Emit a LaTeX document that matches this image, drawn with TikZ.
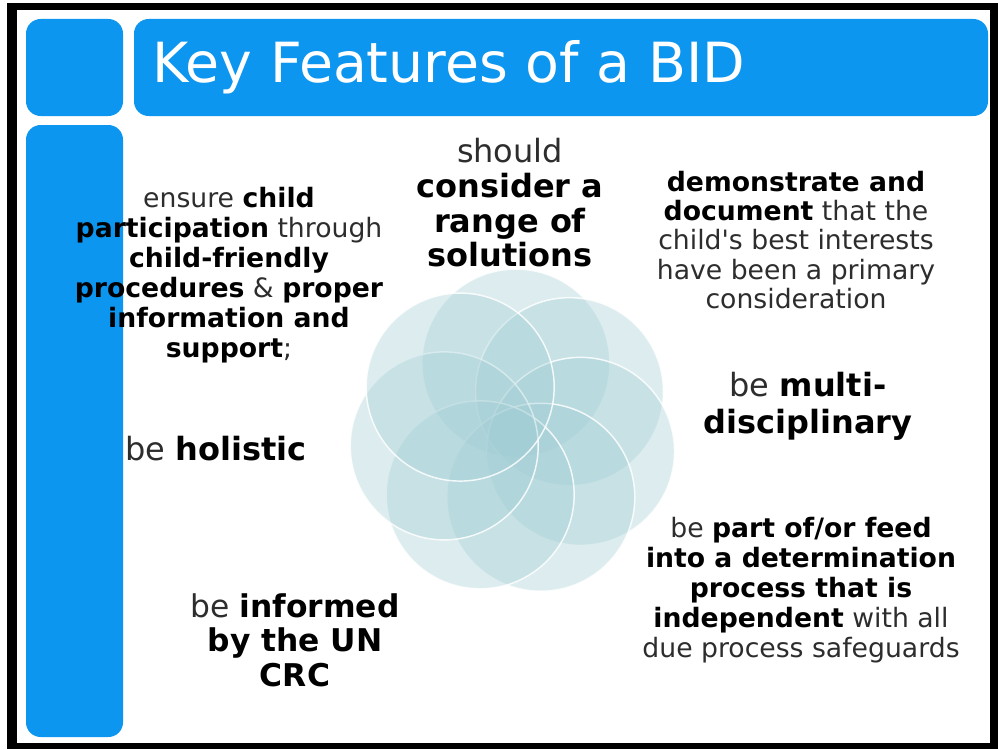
\documentclass[tikz,border=0pt]{standalone}
\usepackage{fontspec}
\setmainfont{DejaVu Sans}

\definecolor{bidblue}{RGB}{12,150,240}
\definecolor{petalfill}{RGB}{160,205,212}
\definecolor{txtgray}{RGB}{45,45,45}

\newcommand{\kw}[1]{\textbf{\color{black}#1}}

\tikzset{
  bar/.style={fill=bidblue, rounded corners=11pt},
  petal/.style={fill=petalfill, fill opacity=0.35, draw=white, draw opacity=0.85, line width=1.1pt},
  feature/.style={align=center, text=txtgray, inner sep=0pt},
}

\begin{document}
\begin{tikzpicture}[x=0.75pt,y=-0.75pt]
    \useasboundingbox (0,0) rectangle (998,749);

    % frame
    \fill[black] (7,3) rectangle (998,749);
    \fill[white] (17,10) rectangle (990,743);

    % blue bars
    \fill[bar] (26,19) rectangle (123,116);
    \fill[bar] (134,19) rectangle (988,116);
    \fill[bar] (26,125) rectangle (123,737);
    \node[anchor=base west, text=white, inner sep=0pt, font=\fontsize{41.5}{46}\selectfont] (title) at (152,83) {Key Features of a BID};

    % rosette
    \foreach \a in {-87.6,-36.2,15.2,66.6,118,-190.6,-139}
        \draw[petal] (513,433) ++(\a:70) circle[radius=94];

    \node[feature, font=\fontsize{24}{26}\selectfont] (consider) at (510,203)
        {should\\ \kw{consider a}\\ \kw{range of}\\ \kw{solutions}};
    \node[feature, font=\fontsize{20}{22.5}\selectfont] (ensure) at (229,275)
        {ensure \kw{child}\\ \kw{participation} through\\ \kw{child-friendly}\\ \kw{procedures} \& \kw{proper}\\ \kw{information and}\\ \kw{support};};
    \node[feature, font=\fontsize{20}{22}\selectfont] (demonstrate) at (796,240)
        {\kw{demonstrate and}\\ \kw{document} that the\\ child\textquotesingle s best interests\\ have been a primary\\ consideration};
    \node[feature, font=\fontsize{24}{26}\selectfont] (holistic) at (216,449)
        {be \kw{holistic}};
    \node[feature, font=\fontsize{24}{28}\selectfont] (multi) at (808,406)
        {be \kw{multi-}\\ \kw{disciplinary}};
    \node[feature, font=\fontsize{20}{22.5}\selectfont] (partof) at (801,590)
        {be \kw{part of/or feed}\\ \kw{into a determination}\\ \kw{process that is}\\ \kw{independent} with all\\ due process safeguards};
    \node[feature, font=\fontsize{23.5}{26}\selectfont] (informed) at (295,640)
        {be \kw{informed}\\ \kw{by the UN}\\ \kw{CRC}};
\end{tikzpicture}
\end{document}
